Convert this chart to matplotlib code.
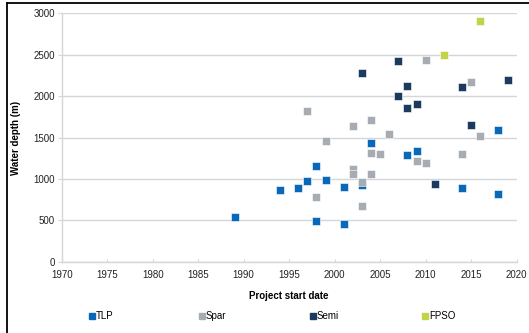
import matplotlib
matplotlib.use("Agg")
import matplotlib.pyplot as plt
from matplotlib.lines import Line2D

plt.rcParams['font.family'] = ['Liberation Sans', 'DejaVu Sans']

tlp_year = [1989, 1994, 1996, 1997, 1998, 1999, 1998, 2001, 2001, 2003, 2004, 2008, 2009, 2014, 2018, 2018]
tlp_depth = [534, 871, 892, 976, 1153, 984, 494, 904, 454, 932, 1430, 1289, 1341, 892, 1586, 823]

spar_year = [2010, 2015, 1997, 2002, 2004, 1999, 2006, 2016, 2004, 2005, 2014, 2009, 2010, 2002, 2002, 2004, 2003, 1998, 2003]
spar_depth = [2438, 2165, 1823, 1643, 1707, 1458, 1542, 1522, 1317, 1301, 1305, 1221, 1193, 1124, 1064, 1064, 960, 787, 675]

semi_year = [2007, 2003, 2008, 2014, 2019, 2007, 2008, 2009, 2015, 2011]
semi_depth = [2430, 2281, 2128, 2116, 2197, 1996, 1855, 1900, 1655, 944]

fpso_year = [2016, 2012]
fpso_depth = [2912, 2502]

series = [
    ("TLP", tlp_year, tlp_depth, "#0a68b8"),
    ("Spar", spar_year, spar_depth, "#a6acb2"),
    ("Semi", semi_year, semi_depth, "#1b3a5e"),
    ("FPSO", fpso_year, fpso_depth, "#c3d348"),
]

x_ticks = [1970, 1975, 1980, 1985, 1990, 1995, 2000, 2005, 2010, 2015, 2020]
y_ticks = [0, 500, 1000, 1500, 2000, 2500, 3000]

fig = plt.figure(figsize=(5.29, 3.33), dpi=100)
ax = fig.add_axes([0.1166, 0.2141, 0.8601, 0.7459])

for name, xs, ys, col in series:
    ax.scatter(xs, ys, marker='s', s=26, color=col, edgecolors='white',
               linewidths=0.4, label=name, zorder=3)

ax.set_xlim(1970, 2020)
ax.set_ylim(0, 3000)
ax.set_xticks(x_ticks)
ax.set_yticks(y_ticks)
ax.yaxis.grid(True, color='#d3d6da', linewidth=1.0)
ax.set_axisbelow(True)
for s in ['top', 'right']:
    ax.spines[s].set_visible(False)
for s in ['left', 'bottom']:
    ax.spines[s].set_color('#d3d6da')
    ax.spines[s].set_linewidth(1.0)
ax.tick_params(axis='y', length=3, color='#d3d6da', labelsize=7, pad=2)
ax.tick_params(axis='x', length=2, direction='in', color='#d3d6da', labelsize=7, pad=6)
ax.tick_params(axis='both', labelcolor='#222222')

ax.set_xlabel("Project start date", fontsize=7, fontweight='bold', labelpad=8)
ax.set_ylabel("Water depth (m)", fontsize=7, fontweight='bold', labelpad=9)

legend_x_px = [88, 198, 309, 421]
for (name, _, _, col), xp in zip(series, legend_x_px):
    h = Line2D([0], [0], marker='s', linestyle='none', markersize=4,
               markerfacecolor=col, markeredgecolor=col)
    fig.legend([h], [name], loc='center left', bbox_to_anchor=(xp / 529, 1 - 316 / 333),
               frameon=False, fontsize=7, handletextpad=0.0, handlelength=0.8,
               borderpad=0.0, borderaxespad=0.0)

fig.add_artist(Line2D([7/529, 7/529], [0, 1 - 3/333], transform=fig.transFigure, color='black', linewidth=1.3))
fig.add_artist(Line2D([7/529, 1], [1 - 3/333, 1 - 3/333], transform=fig.transFigure, color='black', linewidth=1.3))

fig.savefig("out.png", dpi=100)
